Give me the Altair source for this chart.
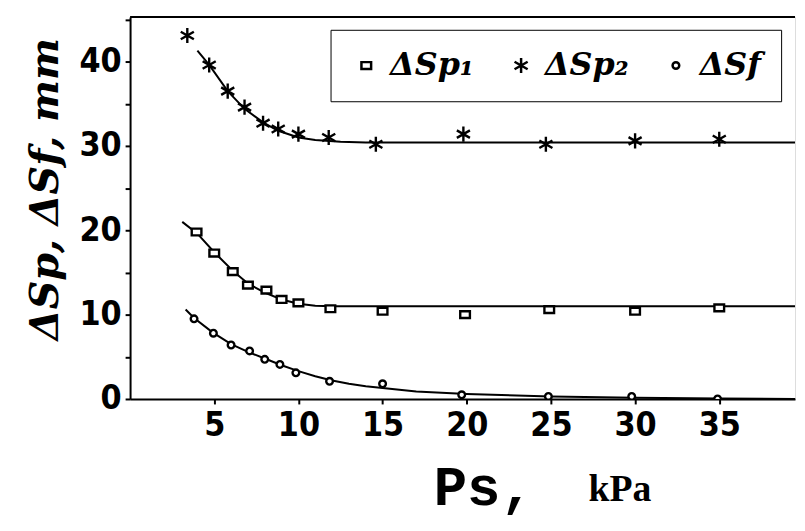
import altair as alt
import pandas as pd

# ---- data ----
series_names = ["ΔSp₁", "ΔSp₂", "ΔSf"]

sp1_x = [3.95, 5.0, 6.1, 7.0, 8.1, 9.0, 10.0, 11.9, 15.0, 19.9, 24.9, 30.0, 35.0]
sp1_y = [19.8, 17.3, 15.1, 13.5, 12.9, 11.8, 11.4, 10.7, 10.4, 10.0, 10.6, 10.4, 10.8]

sp2_x = [3.4, 4.7, 5.8, 6.8, 7.9, 8.8, 10.0, 11.8, 14.6, 19.8, 24.7, 30.0, 35.0]
sp2_y = [43.1, 39.6, 36.5, 34.6, 32.7, 32.0, 31.4, 31.0, 30.2, 31.4, 30.2, 30.6, 30.8]

sf_x = [3.8, 4.95, 6.0, 7.1, 8.0, 8.9, 9.85, 11.85, 15.0, 19.7, 24.85, 29.8, 34.9]
sf_y = [9.5, 7.8, 6.4, 5.7, 4.7, 4.1, 3.1, 2.1, 1.8, 0.5, 0.3, 0.3, 0.0]

# fitted curves as drawn in the picture
sp1_fit_x = [3.1, 4.0, 5.0, 6.1, 7.0, 8.0, 9.0, 10.0, 11.0, 12.0, 39.5]
sp1_fit_y = [21.0, 19.6, 17.4, 15.2, 13.7, 12.6, 11.8, 11.3, 11.05, 11.0, 11.0]

sp2_fit_x = [4.0, 4.7, 5.8, 6.8, 7.9, 8.8, 10.0, 11.0, 12.5, 14.0, 39.5]
sp2_fit_y = [41.3, 39.6, 36.5, 34.4, 32.8, 31.8, 31.0, 30.7, 30.5, 30.4, 30.4]

sf_fit_x = [3.3, 3.8, 4.9, 6.0, 7.1, 8.0, 9.0, 10.0, 11.0, 12.0, 13.0, 14.0, 15.0, 17.0, 20.0, 25.0, 30.0, 35.0, 39.5]
sf_fit_y = [10.6, 9.6, 7.9, 6.5, 5.5, 4.8, 4.0, 3.3, 2.7, 2.2, 1.8, 1.5, 1.3, 0.9, 0.6, 0.3, 0.15, 0.05, 0.0]

x_ticks = [5, 10, 15, 20, 25, 30, 35]
y_ticks = [0, 5, 10, 15, 20, 25, 30, 35, 40, 45]

# ---- tables ----
pts = pd.concat([
    pd.DataFrame({"x": sp1_x, "y": sp1_y, "series": series_names[0]}),
    pd.DataFrame({"x": sp2_x, "y": sp2_y, "series": series_names[1]}),
    pd.DataFrame({"x": sf_x, "y": sf_y, "series": series_names[2]}),
])
fits = pd.concat([
    pd.DataFrame({"x": sp1_fit_x, "y": sp1_fit_y, "series": series_names[0]}),
    pd.DataFrame({"x": sp2_fit_x, "y": sp2_fit_y, "series": series_names[1]}),
    pd.DataFrame({"x": sf_fit_x, "y": sf_fit_y, "series": series_names[2]}),
])

W, H = 670, 385
XMAX, YMAX = 39.5, 45.3

rect_path = "M-1,-0.7L1,-0.7L1,0.7L-1,0.7Z"
star_path = "M0,-1L0,1M-0.87,-0.5L0.87,0.5M-0.87,0.5L0.87,-0.5"

xscale = alt.Scale(domain=[0, XMAX], nice=False, zero=False)
yscale = alt.Scale(domain=[0, YMAX], nice=False)

num_font = "Liberation Sans Narrow, DejaVu Sans Condensed, sans-serif"

x_enc = alt.X("x:Q", scale=xscale, axis=alt.Axis(
    values=x_ticks, title=None, grid=False, tickSize=5, tickWidth=2,
    domainWidth=2, domainColor="black", tickColor="black",
    labelFont=num_font, labelFontWeight="bold", labelFontSize=34,
    labelColor="black", labelPadding=5, labelFlush=False))
y_enc = alt.Y("y:Q", scale=yscale, axis=alt.Axis(
    values=y_ticks, labelExpr="datum.value % 10 == 0 ? datum.label : ''",
    grid=False, tickSize=5, tickWidth=2, domainWidth=2,
    domainColor="black", tickColor="black",
    labelFont=num_font, labelFontWeight="bold", labelFontSize=34,
    labelColor="black", labelPadding=4,
    title="ΔSp, ΔSf, mm", titleFont="DejaVu Serif", titleFontStyle="italic",
    titleFontWeight="bold", titleFontSize=40, titleColor="black",
    titleAngle=270, titleX=-73, titleY=173, titleAlign="center",
    titleBaseline="alphabetic"))

lines = alt.Chart(fits).mark_line(color="black", strokeWidth=2, clip=True).encode(
    x=x_enc, y=y_enc, detail="series:N")

legend = alt.Legend(
    title=None, orient="none", legendX=202, legendY=13, direction="horizontal",
    strokeColor="black", fillColor="white", padding=20,
    cornerRadius=0, labelFont="DejaVu Serif", labelFontStyle="italic",
    labelFontWeight="bold", labelFontSize=32, labelColor="black",
    symbolStrokeWidth=2.5, columnPadding=31, labelOffset=8)

shape_scale = alt.Scale(domain=series_names, range=[rect_path, star_path, "circle"])
size_scale = alt.Scale(type="ordinal", domain=series_names, range=[95, 230, 45])

points = alt.Chart(pts).mark_point(filled=False, fill="white", stroke="black",
                                   color="black", strokeWidth=2.4,
                                   opacity=1, clip=True).encode(
    x="x:Q", y="y:Q",
    shape=alt.Shape("series:N", sort=series_names, scale=shape_scale, legend=legend),
    size=alt.Size("series:N", sort=series_names, scale=size_scale, legend=legend),
)

one = alt.Data(values=[{}])
top_border = alt.Chart(one).mark_rule(color="black", strokeWidth=2).encode(
    x=alt.value(0), x2=alt.value(W), y=alt.value(0))

title_big = alt.Chart(one).mark_text(
    text="Ps,", font="Liberation Mono", fontWeight="bold", fontSize=56,
    align="left", baseline="alphabetic", color="black").encode(
    x=alt.value(306), y=alt.value(492))
title_small = alt.Chart(one).mark_text(
    text="kPa", font="Liberation Serif", fontWeight="bold", fontSize=38,
    align="left", baseline="alphabetic", color="black").encode(
    x=alt.value(462), y=alt.value(488))

chart = alt.layer(lines, points, top_border, title_big, title_small).properties(
    width=W, height=H,
    autosize=alt.AutoSizeParams(type="none"),
    padding={"left": 123, "top": 7, "right": 2, "bottom": 122},
).configure_view(stroke=None).configure_legend(strokeWidth=3).configure(background="white")

chart.save("out.html", embed_options={"renderer": "svg", "actions": False})
